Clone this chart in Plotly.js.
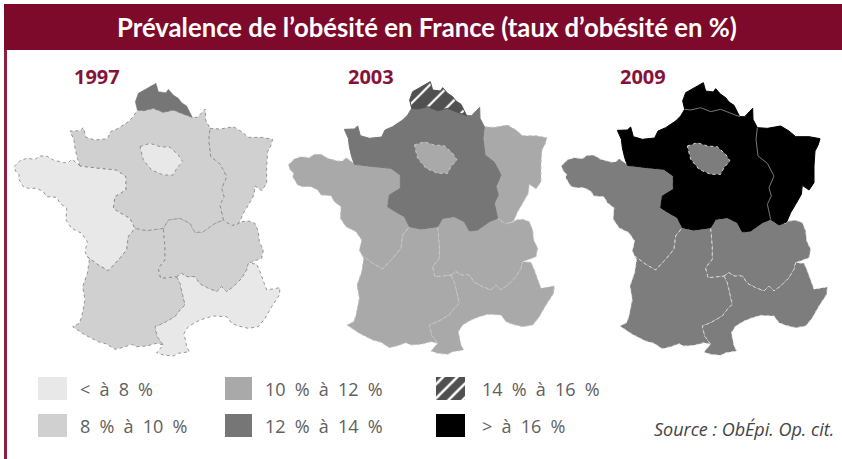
<!DOCTYPE html>
<html><head><meta charset="utf-8">
<script src="https://cdn.plot.ly/plotly-3.0.1.min.js"></script>
<style>html,body{margin:0;padding:0;background:#fff}#c{width:842px;height:459px}</style>
</head><body><div id="c"></div>
<script>
// Region edges (map units: 3 per screen pixel, origin at y=60)
const nordTop=[[412,150],[406,125],[415,100],[440,85],[468,70],[475,95],[498,98],[505,88],[520,105],[535,115],[545,128],[560,138],[568,155],[577,172]];
const nordSouth=[[412,150],[430,152],[460,145],[490,157],[520,150],[550,162],[577,172]];
const channel=[[240,318],[232,295],[225,265],[222,240],[210,213],[225,212],[240,212],[250,203],[258,232],[285,240],[322,236],[332,215],[355,205],[385,185],[400,170],[412,150]];
const ardennes=[[577,172],[592,172],[605,160],[616,147],[617,180],[630,205]];
const eastEdge=[[630,205],[626,240],[632,290],[660,312],[680,350],[665,385],[672,410],[660,435],[670,480]];
const eastOuter=[[630,205],[660,207],[700,200],[725,215],[745,232],[785,232],[818,238],[812,258],[803,275],[800,320],[800,370],[785,392],[765,378],[762,405],[745,435],[730,460],[718,488],[695,497],[670,480]];
const loireEdge=[[240,318],[300,325],[350,330],[378,350],[378,390],[345,410],[340,445],[360,458],[390,475],[405,505]];
const westCoast=[[240,318],[232,310],[215,298],[205,308],[190,308],[160,300],[140,288],[120,288],[105,298],[80,295],[60,302],[42,320],[48,335],[58,345],[55,355],[70,380],[85,385],[110,385],[130,395],[140,410],[170,412],[180,430],[200,445],[198,480],[215,505],[245,520],[262,545],[255,575],[262,590]];
const charenteEdge=[[405,505],[385,530],[380,570],[355,600],[325,632],[295,615],[262,590]];
const midEdge=[[405,505],[440,512],[490,505]];
const rhoneNorth=[[490,505],[505,480],[540,475],[570,490],[585,518],[610,515],[645,490],[670,480]];
const auvergneEdge=[[490,505],[495,560],[495,600],[475,625],[482,655],[530,650]];
const alpsNorth=[[695,497],[718,490],[725,485],[745,483],[765,490],[775,515],[778,545],[790,570],[785,595],[760,605],[745,610]];
const rhoneSouth=[[530,650],[545,640],[560,650],[585,650],[600,672],[625,685],[650,695],[665,680],[680,695],[700,680],[725,655],[740,630],[745,610]];
const garonneEdge=[[530,650],[540,670],[545,695],[555,735],[540,750],[525,770],[490,790],[465,800],[472,830],[490,855]];
const southCoast=[[490,855],[470,850],[440,858],[410,860],[395,853],[370,862],[345,868],[320,852],[295,845],[255,825],[235,812],[218,800],[238,790],[245,770],[255,720],[248,680],[262,640],[268,600],[262,590]];
const riviera=[[745,610],[770,612],[780,635],[790,660],[800,690],[840,683],[838,705],[815,740],[795,775],[775,800],[745,805],[715,798],[695,790],[680,770],[640,768],[615,775],[590,785],[565,800],[552,820],[560,860],[568,875],[535,880],[520,888],[490,885],[470,878],[490,855]];
const ileDeFrance=[[420,260],[450,250],[480,260],[510,262],[535,285],[548,305],[530,325],[520,345],[490,345],[455,330],[430,300],[420,260]];

const rev=a=>a.slice().reverse();
const regionNames=["Ouest","Sud-Ouest","Centre-Est","Méditerranée","Est","Bassin parisien","Nord","Île-de-France"];
const regionPaths=[
  westCoast.concat(rev(charenteEdge),rev(loireEdge)),
  midEdge.concat(auvergneEdge,garonneEdge,southCoast,rev(charenteEdge)),
  rhoneNorth.concat(rev(eastOuter.slice(-2)),alpsNorth.slice(1),rev(rhoneSouth),rev(auvergneEdge)),
  rhoneSouth.concat(riviera.slice(1),rev(garonneEdge)),
  eastOuter.concat(rev(eastEdge)),
  channel.concat(nordSouth.slice(1),ardennes.slice(1),eastEdge.slice(1),rev(rhoneNorth),rev(midEdge),rev(loireEdge)),
  nordTop.concat(rev(nordSouth)),
  ileDeFrance
];

const years=["1997","2003","2009"];
// Obesity class per region (0 = lowest … 5 = highest), same order as regionNames
const classes1997=[0,1,1,0,1,1,3,0];
const classes2003=[2,2,2,2,2,3,4,2];
const classes2009=[3,3,3,3,5,5,5,3];
const classesByYear=[classes1997,classes2003,classes2009];

const legendLabels=["< à 8 %","8 % à 10 %","10 % à 12 %","12 % à 14 %","14 % à 16 %","> à 16 %"];
const classColors=["#e8e8e8","#d0d0d0","#a9a9a9","#767676","#505050","#000000"];
const sourceText="Source : ObÉpi. Op. cit.";
const titleText="Prévalence de l’obésité en France (taux d’obésité en %)";

// Layout constants
const mapShiftX=[0,823,1642], mapShiftY=[0,-5,-2];
const yearX=[291,1113,1930], yearY=48;
const legendCols=[114,675,1308], legendRows=[951,1062], swatchW=[87,81,87], swatchH=69, labelX=[237,792,1443];
const crimson="#7e0a2b", yearColor="#86123a", map2009Grey="#7d7d7d";
const S=3, Y0=60;

const traces=[];
function fillTrace(xs,ys,c,line){
  const t={x:xs,y:ys,mode:"lines",fill:"toself",fillcolor:classColors[c],line:line,hoverinfo:"skip",showlegend:false,type:"scatter"};
  if(c===4){t.fillpattern={shape:"/",bgcolor:classColors[4],fgcolor:"#ffffff",size:14,solidity:0.16};}
  return t;
}
years.forEach((yr,m)=>{
  regionPaths.forEach((p,r)=>{
    const c=classesByYear[m][r];
    const dark=c>=3;
    let line;
    if(m===0) line={color:c===3?classColors[3]:"#8a8a8a",width:c===3?0.5:0.9,dash:c===3?"solid":"dot"};
    else if(m===1) line={color:dark?classColors[c]:"#c8c8c8",width:1,dash:dark?"solid":"dot"};
    else line={color:c===5?"#000000":"#d8d8d8",width:1,dash:c===5?"solid":"dot"};
    const t=fillTrace(p.map(v=>v[0]+mapShiftX[m]),p.map(v=>v[1]+mapShiftY[m]),c,line);
    if(m===2&&c===3){t.fillcolor=map2009Grey;}
    traces.push(t);
  });
});
// Separators between the black regions in 2009
[nordSouth,eastEdge].forEach(e=>{
  traces.push({x:e.map(v=>v[0]+mapShiftX[2]),y:e.map(v=>v[1]+mapShiftY[2]),mode:"lines",line:{color:"#777777",width:1},hoverinfo:"skip",showlegend:false,type:"scatter"});
});
// Legend swatches
const annotations=[];
legendLabels.forEach((lab,i)=>{
  const col=Math.floor(i/2), row=i%2;
  const x0=legendCols[col], y0=legendRows[row], w=swatchW[col];
  const t=fillTrace([x0,x0+w,x0+w,x0,x0],[y0,y0,y0+swatchH,y0+swatchH,y0],i,{width:0});
  if(i===4){t.fillpattern={shape:"/",bgcolor:classColors[4],fgcolor:"#ffffff",size:10,solidity:0.25};}
  traces.push(t);
  annotations.push({x:labelX[col]-3,y:y0+swatchH/2+1,xref:"x",yref:"y",text:'<span style="word-spacing:4.5px">'+lab+'</span>',showarrow:false,xanchor:"left",yanchor:"middle",
    font:{family:"Open Sans",size:18,color:"#606060"}});
});
years.forEach((yr,m)=>annotations.push({x:yearX[m],y:yearY,xref:"x",yref:"y",text:"<b>"+yr+"</b>",showarrow:false,
  font:{family:"Open Sans",size:20,color:yearColor}}));
annotations.push({x:1282,y:-99,xref:"x",yref:"y",text:"<b>"+titleText+"</b>",showarrow:false,
  font:{family:"Lato",size:25.7,color:"#ffffff"}});
annotations.push({x:2507,y:1107,xref:"x",yref:"y",text:"<i>"+sourceText+"</i>",showarrow:false,xanchor:"right",
  font:{family:"Open Sans",size:18,color:"#444444"}});

const layout={
  width:842,height:459,margin:{l:0,r:0,t:0,b:0,pad:0},paper_bgcolor:"#ffffff",plot_bgcolor:"#ffffff",showlegend:false,
  xaxis:{range:[0,842*S],visible:false,fixedrange:true},
  yaxis:{range:[(459-Y0)*S,-Y0*S],visible:false,fixedrange:true},
  annotations:annotations,
  shapes:[
    {type:"rect",xref:"paper",yref:"paper",x0:4/842,x1:1,y0:1-50/459,y1:1-4/459,fillcolor:crimson,line:{width:0},layer:"below"},
    {type:"rect",xref:"paper",yref:"paper",x0:4/842,x1:7/842,y0:0,y1:1-50/459,fillcolor:"#8f1f40",line:{width:0},layer:"below"}
  ]
};
Plotly.newPlot("c",traces,layout,{displayModeBar:false,staticPlot:true});
</script></body></html>
